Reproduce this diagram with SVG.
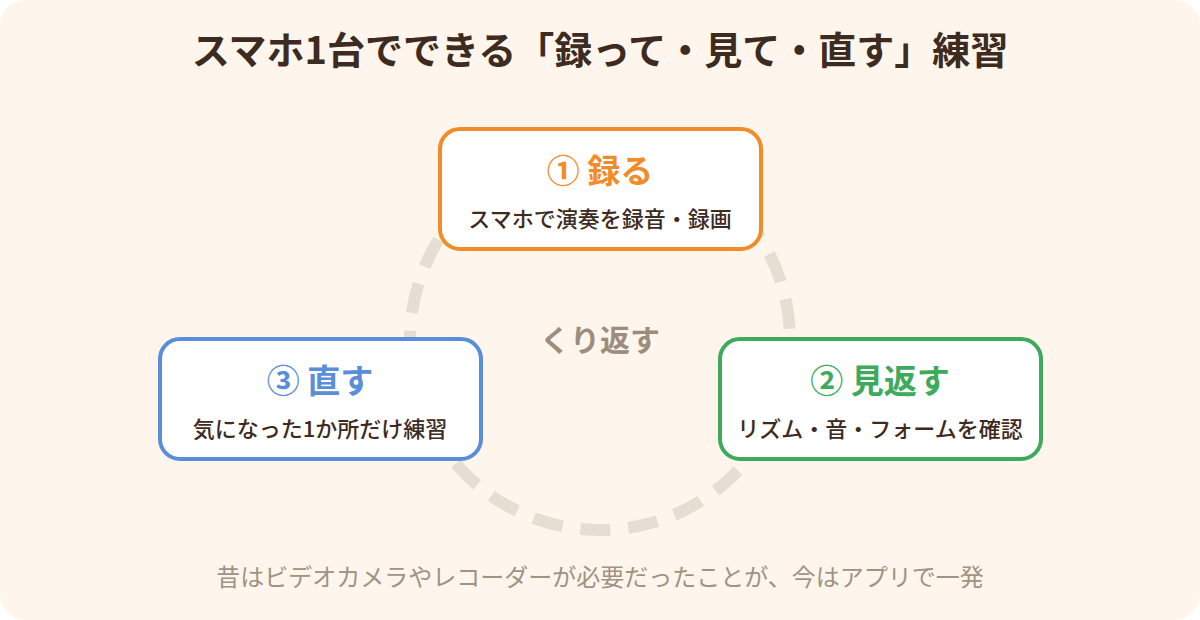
<svg xmlns="http://www.w3.org/2000/svg" width="1200" height="620" viewBox="0 0 1200 620">
  <style>
    text { font-family: "Noto Sans CJK JP", "Noto Sans", sans-serif; text-anchor: middle; }
    .title { font-size: 38px; font-weight: 700; fill: #3D2B1F; }
    .box { fill: #FFFFFF; stroke-width: 4; }
    .head { font-size: 33px; font-weight: 700; }
    .sub { font-size: 22px; font-weight: 500; fill: #3D2B1F; }
    .loop { font-size: 30px; font-weight: 700; fill: #9C8D7E; }
    .foot { font-size: 24px; font-weight: 400; fill: #A29282; }
  </style>
  <rect x="0" y="0" width="1200" height="620" rx="26" ry="26" fill="#FEF6EC"/>
  <text class="title" x="600" y="64">スマホ1台でできる「録って・見て・直す」練習</text>
  <g id="connectors">
    <circle cx="600" cy="340" r="190" fill="none" stroke="#E6DED3" stroke-width="12" stroke-dasharray="30 18"/>
  </g>
  <text class="loop" x="600" y="351">くり返す</text>
  <g id="node-record">
    <rect class="box" x="440" y="129" width="321" height="120" rx="20" ry="20" stroke="#F28C28"/>
    <text class="head" x="600" y="183" fill="#F28C28">① 録る</text>
    <text class="sub" x="600" y="227">スマホで演奏を録音・録画</text>
  </g>
  <g id="node-review">
    <rect class="box" x="720" y="339" width="321" height="120" rx="20" ry="20" stroke="#3DAA5C"/>
    <text class="head" x="880" y="393" fill="#3DAA5C">② 見返す</text>
    <text class="sub" x="880" y="437">リズム・音・フォームを確認</text>
  </g>
  <g id="node-fix">
    <rect class="box" x="160" y="339" width="321" height="120" rx="20" ry="20" stroke="#5B8ED8"/>
    <text class="head" x="320" y="393" fill="#5B8ED8">③ 直す</text>
    <text class="sub" x="320" y="437">気になった1か所だけ練習</text>
  </g>
  <text class="foot" x="600" y="586">昔はビデオカメラやレコーダーが必要だったことが、今はアプリで一発</text>
</svg>
